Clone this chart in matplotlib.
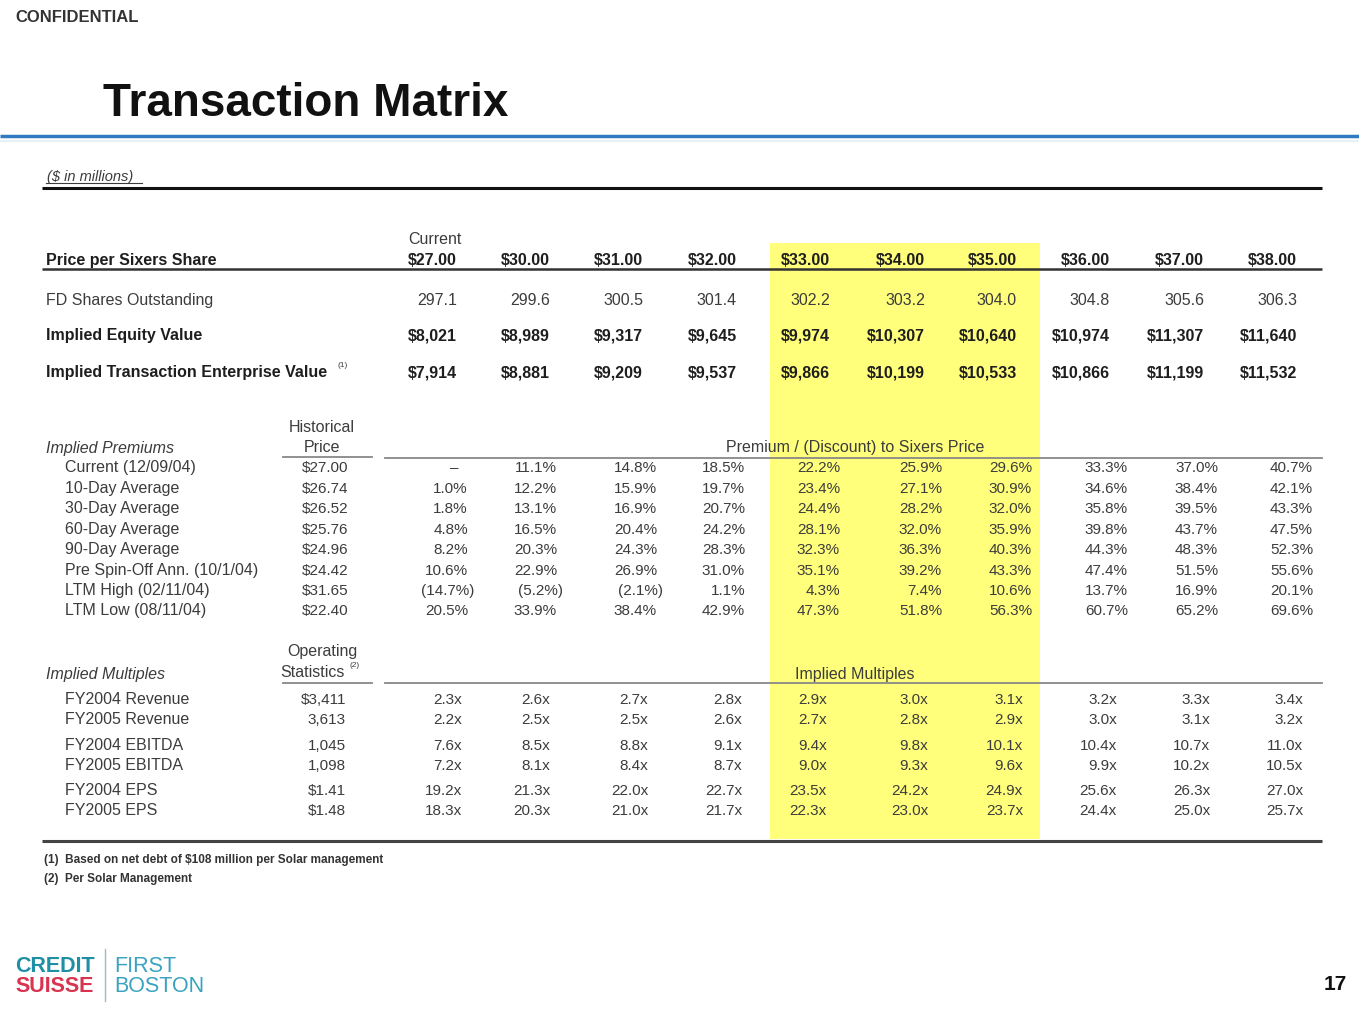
import matplotlib
matplotlib.use("Agg")
import matplotlib.pyplot as plt
from matplotlib.patches import Rectangle

plt.rcParams['font.family'] = ['Liberation Sans', 'DejaVu Sans']

# ---- data ----
prices = [27.00, 30.00, 31.00, 32.00, 33.00, 34.00, 35.00, 36.00, 37.00, 38.00]
fd_shares = [297.1, 299.6, 300.5, 301.4, 302.2, 303.2, 304.0, 304.8, 305.6, 306.3]
equity_value = [8021, 8989, 9317, 9645, 9974, 10307, 10640, 10974, 11307, 11640]
enterprise_value = [7914, 8881, 9209, 9537, 9866, 10199, 10533, 10866, 11199, 11532]

premium_labels = ['Current (12/09/04)', '10-Day Average', '30-Day Average', '60-Day Average',
                  '90-Day Average', 'Pre Spin-Off Ann. (10/1/04)', 'LTM High (02/11/04)',
                  'LTM Low (08/11/04)']
hist_prices = ['$27.00', '$26.74', '$26.52', '$25.76', '$24.96', '$24.42', '$31.65', '$22.40']
premiums = [
    [None, 11.1, 14.8, 18.5, 22.2, 25.9, 29.6, 33.3, 37.0, 40.7],
    [1.0, 12.2, 15.9, 19.7, 23.4, 27.1, 30.9, 34.6, 38.4, 42.1],
    [1.8, 13.1, 16.9, 20.7, 24.4, 28.2, 32.0, 35.8, 39.5, 43.3],
    [4.8, 16.5, 20.4, 24.2, 28.1, 32.0, 35.9, 39.8, 43.7, 47.5],
    [8.2, 20.3, 24.3, 28.3, 32.3, 36.3, 40.3, 44.3, 48.3, 52.3],
    [10.6, 22.9, 26.9, 31.0, 35.1, 39.2, 43.3, 47.4, 51.5, 55.6],
    [-14.7, -5.2, -2.1, 1.1, 4.3, 7.4, 10.6, 13.7, 16.9, 20.1],
    [20.5, 33.9, 38.4, 42.9, 47.3, 51.8, 56.3, 60.7, 65.2, 69.6],
]

multiple_labels = ['FY2004 Revenue', 'FY2005 Revenue', 'FY2004 EBITDA', 'FY2005 EBITDA',
                   'FY2004 EPS', 'FY2005 EPS']
op_stats = ['$3,411', '3,613', '1,045', '1,098', '$1.41', '$1.48']
multiples = [
    [2.3, 2.6, 2.7, 2.8, 2.9, 3.0, 3.1, 3.2, 3.3, 3.4],
    [2.2, 2.5, 2.5, 2.6, 2.7, 2.8, 2.9, 3.0, 3.1, 3.2],
    [7.6, 8.5, 8.8, 9.1, 9.4, 9.8, 10.1, 10.4, 10.7, 11.0],
    [7.2, 8.1, 8.4, 8.7, 9.0, 9.3, 9.6, 9.9, 10.2, 10.5],
    [19.2, 21.3, 22.0, 22.7, 23.5, 24.2, 24.9, 25.6, 26.3, 27.0],
    [18.3, 20.3, 21.0, 21.7, 22.3, 23.0, 23.7, 24.4, 25.0, 25.7],
]

# ---- layout (pixel coords) ----
head_x = [457, 550, 643, 737, 830, 925, 1017, 1110, 1204, 1297]
prem_x = [468, 557, 657, 745, 840, 942, 1032, 1128, 1218, 1313]
mult_x = [462, 550, 648, 742, 827, 928, 1023, 1117, 1210, 1303]
prem_y = [468, 489, 509, 530, 550, 571, 591, 611]
mult_y = [700, 720, 746, 766, 791, 811]

GRAY = '#3c3c3c'
DARK = '#1e1e1e'
LBL = 11.5   # label size
NUM = 11     # number size

fig = plt.figure(figsize=(13.59, 10.20), dpi=100)
ax = fig.add_axes([0, 0, 1, 1])
ax.set_xlim(0, 1359)
ax.set_ylim(1020, 0)
ax.axis('off')

# highlight band
ax.add_patch(Rectangle((770, 244), 270, 596, color='#ffff7c', zorder=0, lw=0))

ax.text(15, 18, 'CONFIDENTIAL', fontsize=12, fontweight='bold', color='#333333', va='center')
ax.text(103, 104, 'Transaction Matrix', fontsize=33, fontweight='bold', color='#111111', va='center')
ax.plot([0, 1359], [137, 137], color='#2f7ac0', lw=2.5, solid_capstyle='butt')
ax.plot([0, 1359], [142, 142], color='#e9f0f6', lw=1.5, solid_capstyle='butt')
ax.text(47, 177, '($ in millions)', fontsize=10.5, style='italic', color=GRAY, va='center')
ax.plot([46, 142], [184, 184], color=GRAY, lw=0.8)
ax.plot([42, 1322], [189, 189], color='#111111', lw=2.2, solid_capstyle='butt')

# header block
ax.text(46, 261, 'Price per Sixers Share', fontsize=LBL, fontweight='bold', color=DARK, va='center')
ax.text(462, 240, 'Current', fontsize=LBL, color=GRAY, va='center', ha='right')
for x, p in zip(head_x, prices):
    ax.text(x, 261, f'${p:.2f}', fontsize=11.5, fontweight='bold', color=DARK, va='center', ha='right')
ax.plot([42, 1322], [270, 270], color='#333333', lw=1.8, solid_capstyle='butt')

ax.text(46, 301, 'FD Shares Outstanding', fontsize=LBL, color=GRAY, va='center')
ax.text(46, 336, 'Implied Equity Value', fontsize=LBL, fontweight='bold', color=DARK, va='center')
ax.text(46, 373, 'Implied Transaction Enterprise Value', fontsize=LBL, fontweight='bold',
        color=DARK, va='center')
ax.text(338, 366, '(1)', fontsize=6, color=GRAY, va='center')
for i, x in enumerate(head_x):
    ax.text(x, 301, f'{fd_shares[i]:.1f}', fontsize=11.5, color=GRAY, va='center', ha='right')
    ax.text(x, 336, f'${equity_value[i]:,}', fontsize=11.5, fontweight='bold', color=DARK,
            va='center', ha='right')
    ax.text(x, 373, f'${enterprise_value[i]:,}', fontsize=11.5, fontweight='bold', color=DARK,
            va='center', ha='right')

# premiums block
ax.text(46, 449, 'Implied Premiums', fontsize=LBL, style='italic', color=GRAY, va='center')
ax.text(322, 428, 'Historical', fontsize=LBL, color=GRAY, va='center', ha='center')
ax.text(322, 448, 'Price', fontsize=LBL, color=GRAY, va='center', ha='center')
ax.plot([283, 372], [458, 458], color='#888888', lw=1.3)
ax.plot([385, 1322], [459, 459], color='#888888', lw=1.3)
ax.text(855, 448, 'Premium / (Discount) to Sixers Price', fontsize=LBL, color=GRAY,
        va='center', ha='center')
for r, y in enumerate(prem_y):
    ax.text(65, y, premium_labels[r], fontsize=LBL, color=GRAY, va='center')
    ax.text(348, y, hist_prices[r], fontsize=NUM, color=GRAY, va='center', ha='right')
    for c, x in enumerate(prem_x):
        v = premiums[r][c]
        if v is None:
            ax.text(x - 10, y, '–', fontsize=NUM, color=GRAY, va='center', ha='right')
        elif v < 0:
            ax.text(x + 6, y, f'({-v:.1f}%)', fontsize=NUM, color=GRAY, va='center', ha='right')
        else:
            ax.text(x, y, f'{v:.1f}%', fontsize=NUM, color=GRAY, va='center', ha='right')

# multiples block
ax.text(46, 675, 'Implied Multiples', fontsize=LBL, style='italic', color=GRAY, va='center')
ax.text(322, 652, 'Operating', fontsize=LBL, color=GRAY, va='center', ha='center')
ax.text(312, 673, 'Statistics', fontsize=LBL, color=GRAY, va='center', ha='center')
ax.text(349, 666, '(2)', fontsize=6, color=GRAY, va='center')
ax.plot([283, 372], [684, 684], color='#888888', lw=1.3)
ax.plot([385, 1322], [684, 684], color='#888888', lw=1.3)
ax.text(855, 675, 'Implied Multiples', fontsize=LBL, color=GRAY, va='center', ha='center')
for r, y in enumerate(mult_y):
    ax.text(65, y, multiple_labels[r], fontsize=LBL, color=GRAY, va='center')
    ax.text(346, y, op_stats[r], fontsize=NUM, color=GRAY, va='center', ha='right')
    for c, x in enumerate(mult_x):
        ax.text(x, y, f'{multiples[r][c]:.1f}x', fontsize=NUM, color=GRAY, va='center', ha='right')

ax.plot([42, 1322], [842, 842], color='#444444', lw=2.2, solid_capstyle='butt')
ax.text(44, 860, '(1)  Based on net debt of $108 million per Solar management', fontsize=8.5,
        color='#333333', va='center', fontweight='bold')
ax.text(44, 879, '(2)  Per Solar Management', fontsize=8.5, color='#333333', va='center',
        fontweight='bold')

# logo
ax.text(15, 967, 'CREDIT', fontsize=15.5, fontweight='bold', color='#1f8fa6', va='center')
ax.text(15, 987, 'SUISSE', fontsize=15.5, fontweight='bold', color='#d8344f', va='center')
ax.plot([105, 105], [950, 1002], color='#9fb9c4', lw=1)
ax.text(114, 967, 'FIRST', fontsize=15.5, color='#3aa3bf', va='center')
ax.text(114, 987, 'BOSTON', fontsize=15.5, color='#3aa3bf', va='center')

ax.text(1347, 985, '17', fontsize=15, fontweight='bold', color='#111111', va='center', ha='right')

fig.savefig('out.png', dpi=100, facecolor='white')
